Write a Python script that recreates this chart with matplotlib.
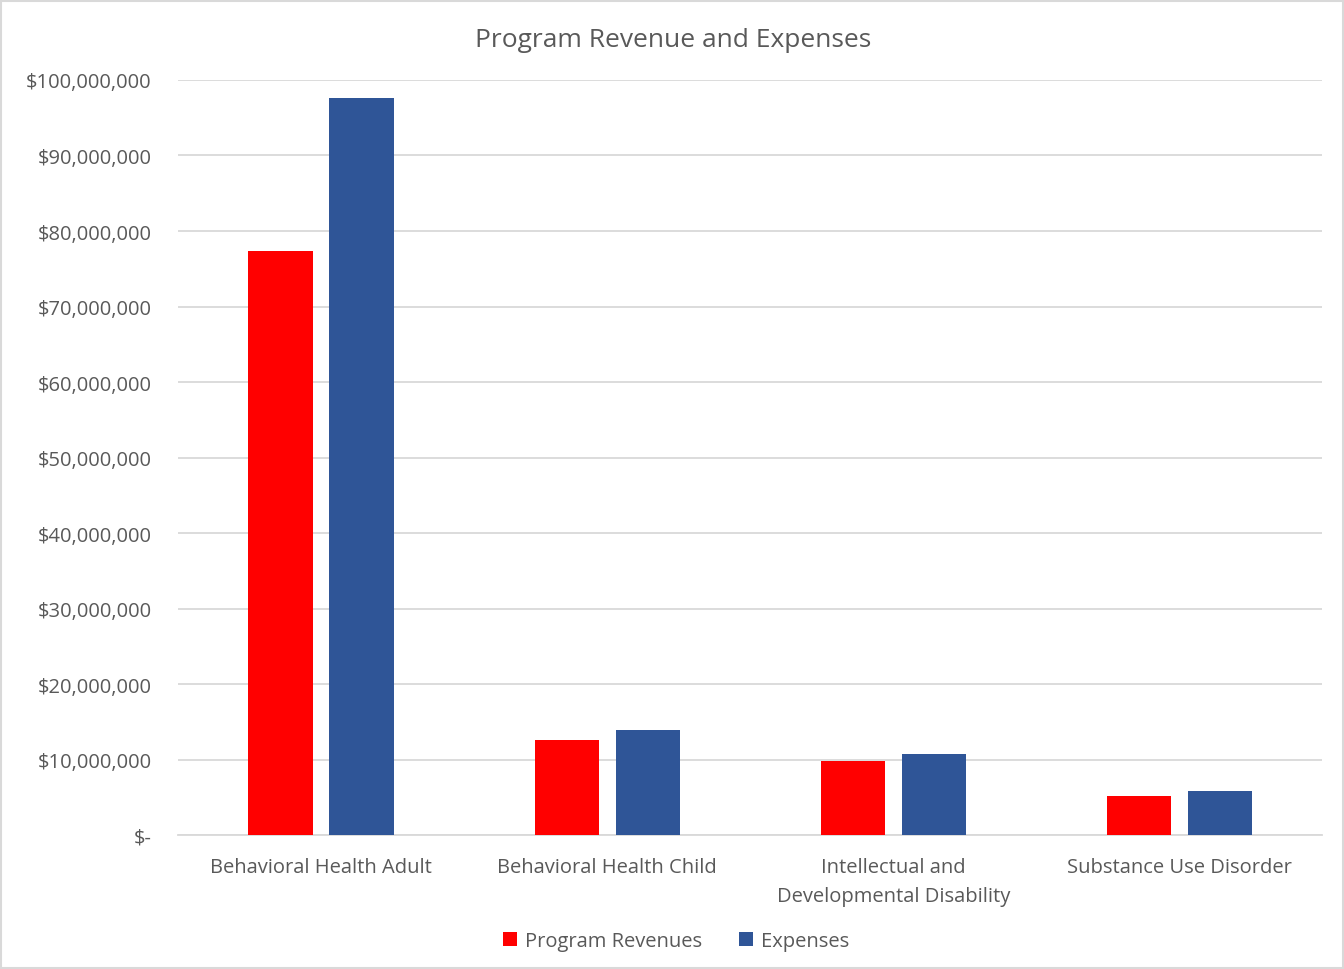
import numpy as np
import matplotlib.pyplot as plt
from matplotlib.ticker import FuncFormatter
from matplotlib.patches import Rectangle

categories = ["Behavioral Health Adult", "Behavioral Health Child",
              "Intellectual and\nDevelopmental Disability", "Substance Use Disorder"]
revenues = [77.4e6, 12.6e6, 9.8e6, 5.2e6]
expenses = [97.6e6, 13.9e6, 10.7e6, 5.8e6]

RED = "#ff0000"
BLUE = "#2f5597"
TEXT = "#595959"
GRID = "#d9d9d9"

plt.rcParams['font.family'] = ['Open Sans', 'DejaVu Sans']

fig = plt.figure(figsize=(13.44, 9.70), dpi=100)
ax = fig.add_axes([0.1324, 0.1381, 0.8516, 0.7784])

x = np.arange(len(categories))
w = 0.224
off = 0.1416
ax.bar(x - off, revenues, w, color=RED, label="Program Revenues", zorder=3)
ax.bar(x + off, expenses, w, color=BLUE, label="Expenses", zorder=3)

ax.set_xlim(-0.5, 3.5)
ax.set_ylim(0, 100e6)
ax.set_yticks(np.arange(0, 100e6 + 1, 10e6))


def money(v, pos):
    if v == 0:
        return "$-"
    return "${:,.0f}".format(v)


ax.yaxis.set_major_formatter(FuncFormatter(money))
ax.grid(axis='y', color=GRID, linewidth=1.3, zorder=0)
for s in ["top", "right", "left"]:
    ax.spines[s].set_visible(False)
ax.spines["bottom"].set_color(GRID)
ax.spines["bottom"].set_linewidth(1.3)
ax.tick_params(axis='both', length=0, colors=TEXT, labelsize=14.5)
ax.tick_params(axis='y', pad=19)
ax.tick_params(axis='x', pad=16)
ax.set_xticks(x)
ax.set_xticklabels(categories, linespacing=1.55)

fig.text(0.501, 0.958, "Program Revenue and Expenses", ha='center', va='center',
         fontsize=19, color=TEXT)

leg = fig.legend(loc='center', bbox_to_anchor=(0.503, 0.029), ncol=2, frameon=False,
                 fontsize=14.5, handlelength=0.7, handleheight=0.7,
                 handletextpad=0.4, columnspacing=1.8)
for t in leg.get_texts():
    t.set_color(TEXT)

fig.patches.append(Rectangle((0.001, 0.001), 0.998, 0.997, transform=fig.transFigure,
                             fill=False, edgecolor=GRID, linewidth=1.5))

fig.savefig("out.png", dpi=100)
